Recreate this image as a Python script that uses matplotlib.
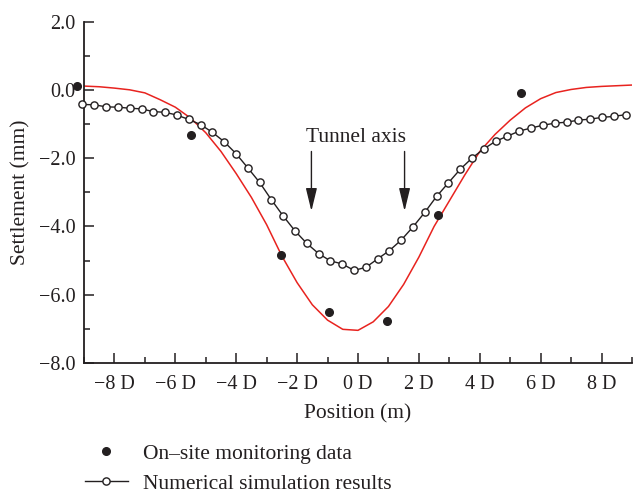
import matplotlib
matplotlib.use('Agg')
import matplotlib.pyplot as plt
from matplotlib.ticker import MultipleLocator, FuncFormatter
from matplotlib.lines import Line2D

plt.rcParams['font.family'] = ['Liberation Serif', 'DejaVu Serif']

# Numerical simulation results (position in D, settlement in mm)
sim_x = [-9.05, -8.66, -8.27, -7.89, -7.50, -7.11, -6.72, -6.34, -5.95, -5.56,
         -5.17, -4.78, -4.40, -4.01, -3.62, -3.23, -2.85, -2.46, -2.07, -1.68,
         -1.29, -0.91, -0.52, -0.13, 0.26, 0.65, 1.03, 1.42, 1.81, 2.20,
         2.58, 2.97, 3.36, 3.75, 4.14, 4.52, 4.91, 5.30, 5.69, 6.07,
         6.46, 6.85, 7.24, 7.63, 8.01, 8.40, 8.79]
sim_y = [-0.42, -0.43, -0.49, -0.50, -0.53, -0.55, -0.63, -0.65, -0.73, -0.86,
         -1.01, -1.24, -1.51, -1.86, -2.28, -2.71, -3.21, -3.69, -4.13, -4.50,
         -4.80, -5.01, -5.10, -5.29, -5.20, -4.95, -4.71, -4.40, -4.01, -3.58,
         -3.12, -2.72, -2.32, -1.99, -1.72, -1.50, -1.35, -1.20, -1.11, -1.03,
         -0.97, -0.94, -0.88, -0.85, -0.80, -0.77, -0.72]

# On-site monitoring data
mon_x = [-9.24, -5.48, -2.53, -0.95, 0.94, 2.64, 5.37]
mon_y = [0.12, -1.31, -4.84, -6.52, -6.78, -3.65, -0.08]

# Fitted curve (red)
fit_x = [-9.0, -8.5, -8.0, -7.5, -7.0, -6.5, -6.0, -5.5, -5.0, -4.5,
         -4.0, -3.5, -3.0, -2.5, -2.0, -1.5, -1.0, -0.5, 0.0, 0.5,
         1.0, 1.5, 2.0, 2.5, 3.0, 3.5, 4.0, 4.5, 5.0, 5.5,
         6.0, 6.5, 7.0, 7.5, 8.0, 8.5, 9.0]
fit_y = [0.12, 0.10, 0.06, 0.01, -0.08, -0.28, -0.50, -0.82, -1.25, -1.80,
         -2.45, -3.15, -3.95, -4.87, -5.65, -6.30, -6.75, -7.02, -7.05, -6.80,
         -6.35, -5.70, -4.90, -4.00, -3.25, -2.50, -1.80, -1.30, -0.88, -0.52,
         -0.25, -0.07, 0.02, 0.08, 0.11, 0.13, 0.15]

tunnel_x = [-1.53, 1.53]

x_ticks = [-8, -6, -4, -2, 0, 2, 4, 6, 8]
y_ticks = [2, 0, -2, -4, -6, -8]

fig = plt.figure(figsize=(6.33, 4.97), dpi=100)
ax = fig.add_axes([0.1327, 0.2702, 0.8657, 0.6855])

ink = '#231f20'

ax.plot(fit_x, fit_y, color='#e8231f', lw=1.1, zorder=2)
ax.plot(sim_x, sim_y, color=ink, lw=1.0, marker='o', markersize=5.2,
        markerfacecolor='white', markeredgecolor=ink, markeredgewidth=1.0,
        clip_on=False, zorder=3)
ax.plot(mon_x, mon_y, linestyle='none', marker='o', markersize=5.5,
        color=ink, clip_on=False, zorder=4)

# Tunnel axis arrows
for tx in tunnel_x:
    ax.annotate('', xy=(tx, -3.55), xytext=(tx, -1.8),
                arrowprops=dict(arrowstyle='-|>,head_length=1.4,head_width=0.34',
                                color=ink, lw=1.0, shrinkA=0, shrinkB=0))
ax.text(-0.05, -1.38, 'Tunnel axis', fontsize=15.5, ha='center', va='center',
        color=ink)

ax.set_xlim(-9, 9)
ax.set_ylim(-8, 2)
ax.set_xticks(x_ticks)
ax.set_yticks(y_ticks)
ax.xaxis.set_minor_locator(MultipleLocator(1))
ax.yaxis.set_minor_locator(MultipleLocator(1))
ax.xaxis.set_major_formatter(FuncFormatter(
    lambda v, p: ('%d D' % v).replace('-', '\u2212')))
ax.yaxis.set_major_formatter(FuncFormatter(
    lambda v, p: ('%.1f' % v).replace('-', '\u2212')))

for s in ['top', 'right']:
    ax.spines[s].set_visible(False)
for s in ['left', 'bottom']:
    ax.spines[s].set_linewidth(1.3)
    ax.spines[s].set_color(ink)

ax.tick_params(which='major', direction='in', length=7, width=1.1,
               labelsize=14.5, colors=ink, pad=6)
ax.tick_params(axis='x', which='major', pad=9)
ax.tick_params(which='minor', direction='in', length=4, width=1.1, colors=ink)

ax.set_xlabel('Position (m)', fontsize=15.5, color=ink, labelpad=7)
ax.set_ylabel('Settlement (mm)', fontsize=15.5, color=ink, labelpad=6)

handles = [
    Line2D([], [], linestyle='none', marker='o', markersize=5.5, color=ink),
    Line2D([], [], color=ink, lw=1.0, marker='o', markersize=5.2,
           markerfacecolor='white', markeredgecolor=ink, markeredgewidth=1.0),
]
labels = ['On\u2013site monitoring data', 'Numerical simulation results']
fig.legend(handles, labels, loc='upper left', bbox_to_anchor=(0.134, 0.107),
           frameon=False, fontsize=15.5, handlelength=2.0, handletextpad=0.7,
           labelspacing=0.45, borderpad=0, borderaxespad=0, labelcolor=ink)

plt.savefig('out.png', dpi=100, facecolor='white')
plt.close()
